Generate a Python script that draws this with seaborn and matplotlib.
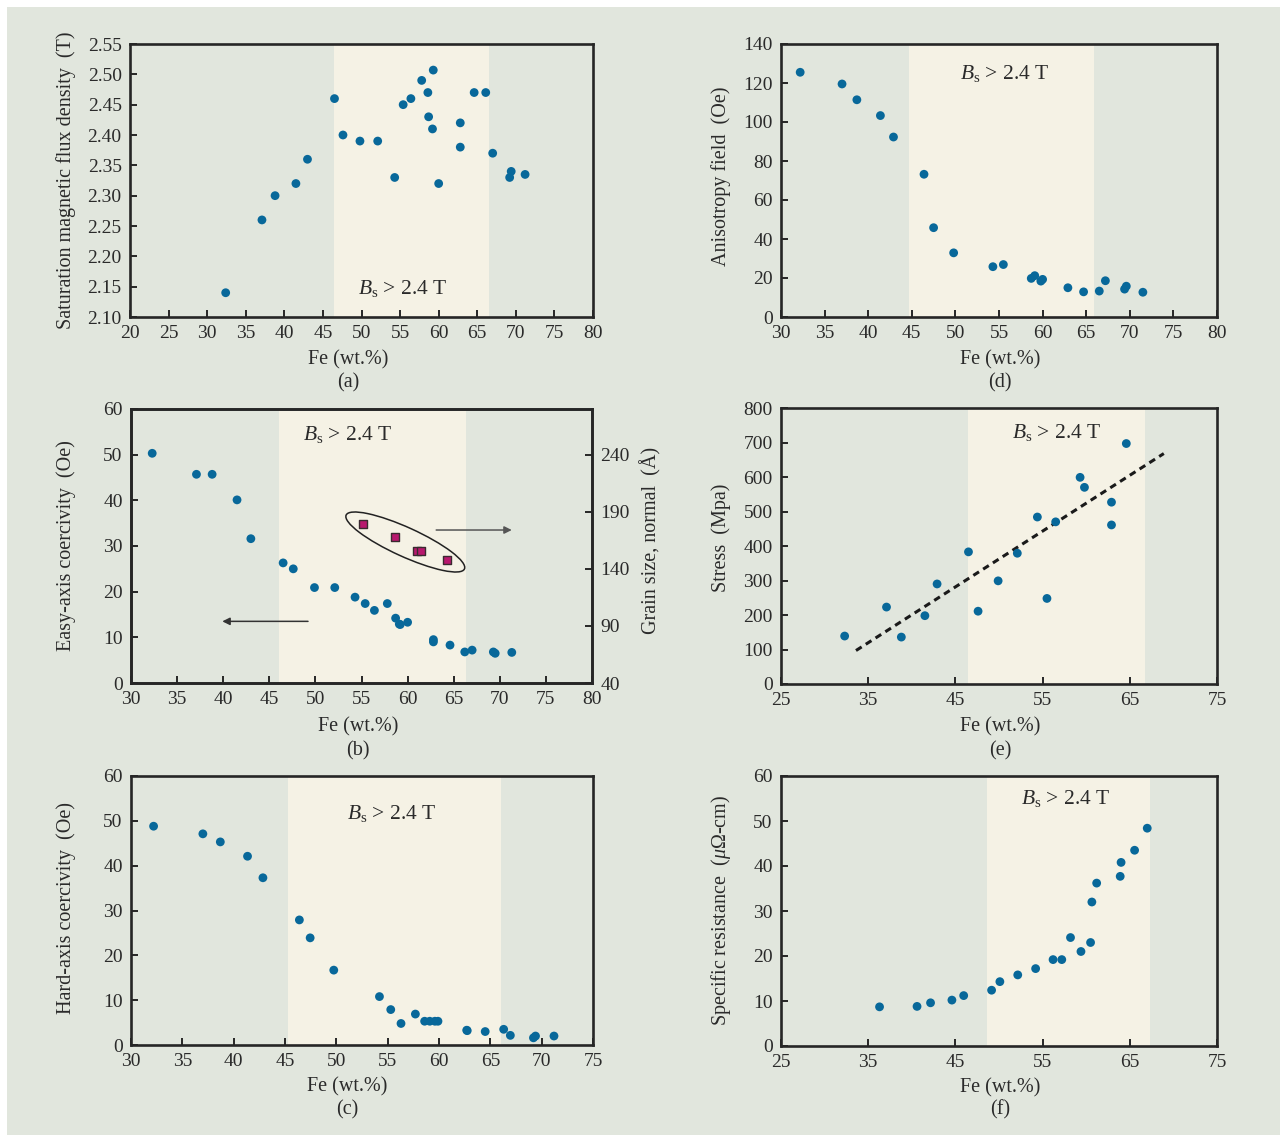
import numpy as np
import pandas as pd
import seaborn as sns
import matplotlib.pyplot as plt
from matplotlib.patches import Ellipse, Rectangle
import matplotlib.transforms as mtransforms

# values
# (a) saturation flux density
fe_a = [32.4, 37.1, 38.8, 41.5, 43.0, 46.5, 47.6, 49.8, 52.1, 54.3, 55.4, 56.4, 57.8,
        58.6, 58.7, 59.2, 59.3, 60.0, 62.8, 62.8, 64.6, 66.1, 67.0, 69.2, 69.4, 71.2]
bs_a = [2.14, 2.26, 2.30, 2.32, 2.36, 2.46, 2.40, 2.39, 2.39, 2.33, 2.45, 2.46, 2.49,
        2.47, 2.43, 2.41, 2.507, 2.32, 2.42, 2.38, 2.47, 2.47, 2.37, 2.33, 2.34, 2.335]

# (d) anisotropy field
fe_d = [32.2, 37.0, 38.7, 41.4, 42.9, 46.4, 47.5, 49.8, 54.3, 55.5, 58.7, 59.1, 59.8,
        60.0, 62.9, 64.7, 66.5, 67.2, 69.4, 69.6, 71.5]
hk_d = [125.5, 119.5, 111.4, 103.3, 92.3, 73.2, 45.8, 32.9, 25.8, 26.9, 19.8, 21.2, 18.4,
        19.3, 15.0, 12.9, 13.3, 18.6, 14.3, 15.8, 12.7]

# (b) easy-axis coercivity + grain size
fe_b = [32.3, 37.1, 38.8, 41.5, 43.0, 46.5, 47.6, 49.9, 52.1, 54.3, 55.4, 56.4, 57.8,
        58.7, 59.1, 59.2, 60.0, 62.8, 62.8, 64.6, 66.2, 67.0, 69.3, 69.5, 71.3]
hce_b = [50.3, 45.7, 45.7, 40.1, 31.6, 26.3, 25.0, 20.9, 20.9, 18.8, 17.4, 15.9, 17.4,
         14.2, 12.9, 12.8, 13.3, 9.5, 9.0, 8.3, 6.8, 7.2, 6.8, 6.5, 6.7]
fe_grain = [55.2, 58.6, 61.0, 61.5, 64.3]
grain = [179, 168, 156, 156, 148]

# (e) stress
fe_e = [32.3, 37.1, 38.8, 41.5, 42.9, 46.5, 47.6, 49.9, 52.1, 54.4, 55.5, 56.5, 59.3,
        59.8, 62.9, 62.9, 64.6]
stress_e = [139, 223, 136, 198, 290, 383, 211, 299, 379, 484, 248, 470, 599, 570, 527,
            461, 697]
fit_x = [33.6, 68.9]
fit_y = [97, 668]

# (c) hard-axis coercivity
fe_c = [32.2, 37.0, 38.7, 41.35, 42.85, 46.4, 47.45, 49.75, 54.2, 55.3, 56.3, 57.7, 58.6,
        59.1, 59.6, 59.9, 62.7, 62.75, 64.5, 66.3, 66.95, 69.2, 69.4, 71.2]
hch_c = [48.8, 47.1, 45.3, 42.1, 37.3, 27.9, 23.9, 16.7, 10.8, 7.9, 4.8, 6.9, 5.3, 5.3,
         5.3, 5.3, 3.3, 3.2, 3.0, 3.5, 2.15, 1.6, 2.0, 2.0]

# (f) specific resistance
fe_f = [36.3, 40.6, 42.15, 44.6, 45.95, 49.15, 50.1, 52.15, 54.2, 56.2, 57.2, 58.2, 59.4,
        60.5, 60.65, 61.2, 63.9, 64.0, 65.55, 67.0]
rho_f = [8.7, 8.8, 9.6, 10.2, 11.2, 12.4, 14.3, 15.8, 17.2, 19.2, 19.2, 24.1, 21.0, 23.0,
         32.0, 36.2, 37.7, 40.8, 43.5, 48.4]

BG = '#e1e6dd'
CREAM = '#f5f2e5'
BLUE = '#08689a'
INK = '#2a2a2a'
W, H = 1280, 1135
TICK_FS = 14
LABEL_FS = 14.5
BS_FS = 15.5

sns.set_theme(style='ticks')
plt.rcParams['font.family'] = ['Liberation Serif', 'DejaVu Serif']
plt.rcParams['mathtext.fontset'] = 'custom'
plt.rcParams['mathtext.rm'] = 'Liberation Serif'
plt.rcParams['mathtext.it'] = 'Liberation Serif:italic'
plt.rcParams['text.color'] = INK
plt.rcParams['axes.labelcolor'] = INK

fig = plt.figure(figsize=(W / 100, H / 100), dpi=100, facecolor='white')
fig.patches.append(Rectangle((7 / W, 0), 1, 1 - 7 / H, transform=fig.transFigure,
                             facecolor=BG, edgecolor='none', zorder=-10))


def make_ax(x0, x1, y0, y1):
    ax = fig.add_axes([x0 / W, 1 - y1 / H, (x1 - x0) / W, (y1 - y0) / H])
    ax.set_facecolor(BG)
    for s in ax.spines.values():
        s.set_linewidth(1.9)
        s.set_color('#262626')
    ax.tick_params(direction='in', length=5, width=1.4, color='#262626',
                   labelsize=TICK_FS, labelcolor=INK, pad=6, top=False, right=False)
    return ax


def fig_text(x, y, s, **kw):
    fig.text(x / W, 1 - y / H, s, ha='center', va='center', fontsize=LABEL_FS, **kw)


BS = r'$B_\mathrm{s}$ > 2.4 T'


def dots(ax, x, y):
    sns.scatterplot(x=x, y=y, ax=ax, color=BLUE, s=40, edgecolor='none', zorder=3)
    ax.set_xlabel('')
    ax.set_ylabel('')


# (a)
ax = make_ax(130, 593, 44, 317)
ax.axvspan(46.5, 66.5, color=CREAM, zorder=0, lw=0)
dots(ax, fe_a, bs_a)
ax.set_xlim(20, 80)
ax.set_ylim(2.10, 2.55)
ax.set_xticks(np.arange(20, 81, 5))
ax.set_yticks(np.arange(2.10, 2.551, 0.05))
ax.set_yticklabels([f'{v:.2f}' for v in np.arange(2.10, 2.551, 0.05)])
ax.text(55.3, 2.147, BS, ha='center', va='center', fontsize=BS_FS)
fig_text(66, 180, 'Saturation magnetic flux density  (T)', rotation=90)
fig_text(348, 360, 'Fe (wt.%)')
fig_text(348, 383, '(a)')

# (d)
ax = make_ax(781, 1217, 44, 317)
ax.axvspan(44.7, 65.9, color=CREAM, zorder=0, lw=0)
dots(ax, fe_d, hk_d)
ax.set_xlim(30, 80)
ax.set_ylim(0, 140)
ax.set_xticks(np.arange(30, 81, 5))
ax.set_yticks(np.arange(0, 141, 20))
ax.text(55.7, 125, BS, ha='center', va='center', fontsize=BS_FS)
fig_text(721, 176, 'Anisotropy field  (Oe)', rotation=90)
fig_text(1000, 360, 'Fe (wt.%)')
fig_text(1000, 383, '(d)')

# (b)
ax = make_ax(131, 592, 409, 683)
ax.axvspan(46.0, 66.3, color=CREAM, zorder=0, lw=0)
dots(ax, fe_b, hce_b)
ax.set_xlim(30, 80)
ax.set_ylim(0, 60)
ax.set_xticks(np.arange(30, 81, 5))
ax.set_yticks(np.arange(0, 61, 10))
ax.text(53.5, 54.4, BS, ha='center', va='center', fontsize=BS_FS)
ax.annotate('', xy=(39.6, 13.5), xytext=(49.5, 13.5),
            arrowprops=dict(arrowstyle='-|>', color='#333333', lw=1.1, mutation_scale=11))
ax.annotate('', xy=(71.6, 33.5), xytext=(62.8, 33.5),
            arrowprops=dict(arrowstyle='-|>', color='#555555', lw=1.1, mutation_scale=11))
ax2 = ax.twinx()
ax2.set_ylim(40, 280)
ax2.set_yticks([40, 90, 140, 190, 240])
ax2.tick_params(direction='in', length=5, width=1.4, color='#262626',
                labelsize=TICK_FS, labelcolor=INK, pad=6)
for s in ax2.spines.values():
    s.set_linewidth(1.9)
    s.set_color('#262626')
sns.scatterplot(x=fe_grain, y=grain, ax=ax2, marker='s', color='#b8186e', s=32,
                edgecolor='#3a2a30', linewidth=1.0, zorder=4)
ax2.set_ylabel('')
off = mtransforms.ScaledTranslation(59.75, 163.5, ax2.transData)
ax2.add_patch(Ellipse((0, 0), 1.30, 0.29, angle=-24.5, transform=fig.dpi_scale_trans + off,
                      fill=False, edgecolor='#222222', lw=1.1, zorder=5))
fig_text(66, 546, 'Easy-axis coercivity  (Oe)', rotation=90)
fig_text(651, 540, 'Grain size, normal  (Å)', rotation=90)
fig_text(358, 727, 'Fe (wt.%)')
fig_text(358, 751, '(b)')

# (e)
ax = make_ax(781, 1217, 408, 684)
ax.axvspan(46.5, 66.7, color=CREAM, zorder=0, lw=0)
dots(ax, fe_e, stress_e)
sns.lineplot(x=fit_x, y=fit_y, ax=ax, color='#1a1a1a', lw=2.2, zorder=2)
ax.lines[-1].set_linestyle((0, (2.2, 1.6)))
ax.set_xlim(25, 75)
ax.set_ylim(0, 800)
ax.set_xticks(np.arange(25, 76, 10))
ax.set_yticks(np.arange(0, 801, 100))
ax.text(56.6, 730, BS, ha='center', va='center', fontsize=BS_FS)
fig_text(721, 538, 'Stress  (Mpa)', rotation=90)
fig_text(1000, 727, 'Fe (wt.%)')
fig_text(1000, 751, '(e)')

# (c)
ax = make_ax(131, 593, 776, 1045)
ax.axvspan(45.3, 66.0, color=CREAM, zorder=0, lw=0)
dots(ax, fe_c, hch_c)
ax.set_xlim(30, 75)
ax.set_ylim(0, 60)
ax.set_xticks(np.arange(30, 76, 5))
ax.set_yticks(np.arange(0, 61, 10))
ax.text(55.4, 51.7, BS, ha='center', va='center', fontsize=BS_FS)
fig_text(66, 908, 'Hard-axis coercivity  (Oe)', rotation=90)
fig_text(347, 1087, 'Fe (wt.%)')
fig_text(347, 1110, '(c)')

# (f)
ax = make_ax(781, 1217, 776, 1046)
ax.axvspan(48.6, 67.3, color=CREAM, zorder=0, lw=0)
dots(ax, fe_f, rho_f)
ax.set_xlim(25, 75)
ax.set_ylim(0, 60)
ax.set_xticks(np.arange(25, 76, 10))
ax.set_yticks(np.arange(0, 61, 10))
ax.text(57.7, 54.9, BS, ha='center', va='center', fontsize=BS_FS)
fig_text(721, 910, r'Specific resistance  ($\mu\Omega$-cm)', rotation=90)
fig_text(1000, 1088, 'Fe (wt.%)')
fig_text(1000, 1110, '(f)')

fig.savefig('out.png', dpi=100, facecolor='white')
